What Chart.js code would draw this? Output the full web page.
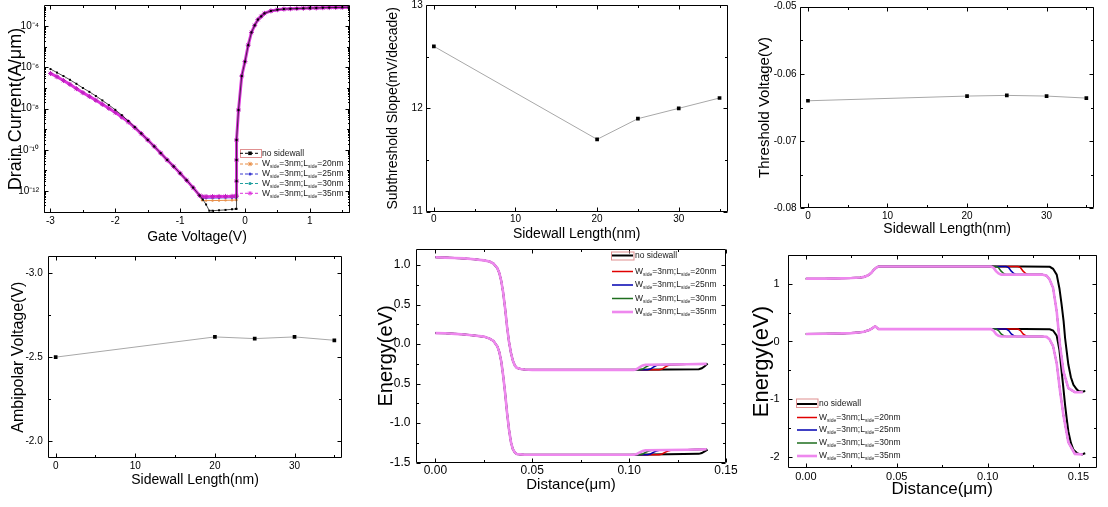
<!DOCTYPE html>
<html>
<head>
<meta charset="utf-8">
<script src="https://cdn.jsdelivr.net/npm/chart.js@4.4.1/dist/chart.umd.min.js"></script>
<style>
html,body{margin:0;padding:0;background:#fff;}
body{width:1108px;height:507px;overflow:hidden;position:relative;}
canvas{position:absolute;}
</style>
</head>
<body>
<canvas id="c1"></canvas>
<canvas id="c2"></canvas>
<canvas id="c3"></canvas>
<canvas id="c4"></canvas>
<canvas id="c5"></canvas>
<canvas id="c6"></canvas>
<script>
// ---------------- DATA ----------------
// sidewall lengths (nm) used by the three summary plots and legends
const sidewallLen = [0, 20, 25, 30, 35];
const legendLens = [20, 25, 30, 35];
const subSlope = [12.6, 11.7, 11.9, 12.0, 12.1];              // mV/decade
const thresholdV = [-0.0640, -0.0633, -0.0632, -0.0633, -0.0636]; // V
const ambipolarV = [-2.50, -2.62, -2.61, -2.62, -2.60];        // V

// Panel 1: transfer characteristics (gate voltage V, drain current A/um)
const currentDecades = [1e-13, 1e-12, 1e-11, 1e-10, 1e-9, 1e-8, 1e-7, 1e-6, 1e-5, 1e-4];
const vgNoSide = [-3.0,-2.9,-2.8,-2.7,-2.6,-2.5,-2.4,-2.3,-2.2,-2.1,-2.0,-1.9,-1.8,-1.7,-1.6,-1.5,-1.4,-1.3,-1.2,-1.1,-1.0,-0.9,-0.8,-0.7,
  -0.65,-0.6,-0.55,-0.5,-0.4,-0.3,-0.2,-0.14,-0.13,
  -0.13,-0.13,-0.13,-0.1,-0.05,0.0,0.05,0.1,0.15,0.2,0.25,0.3,0.4,0.5,0.6,0.7,0.8,0.9,1.0,1.1,1.2,1.3,1.4,1.5,1.6];
const vgSide = [-3.0,-2.9,-2.8,-2.7,-2.6,-2.5,-2.4,-2.3,-2.2,-2.1,-2.0,-1.9,-1.8,-1.7,-1.6,-1.5,-1.4,-1.3,-1.2,-1.1,-1.0,-0.9,-0.8,-0.7,
  -0.66,-0.6,-0.5,-0.4,-0.3,-0.2,-0.14,-0.13,
  -0.13,-0.13,-0.13,-0.1,-0.05,0.0,0.05,0.1,0.15,0.2,0.25,0.3,0.4,0.5,0.6,0.7,0.8,0.9,1.0,1.1,1.2,1.3,1.4,1.5,1.6];
const idNoSideLeft = [8.3e-7,5.6e-7,3.8e-7,2.5e-7,1.6e-7,1.0e-7,6.5e-8,4.1e-8,2.5e-8,1.5e-8,8.7e-9,4.8e-9,2.5e-9,1.26e-9,6.2e-10,3.0e-10,1.45e-10,6.9e-11,3.2e-11,1.55e-11,7.2e-12,3.3e-12,1.45e-12,6.0e-13];
const idNoSideFloor = [3.8e-13,2.2e-13,1.1e-13,1.1e-13,1.15e-13,1.2e-13,1.28e-13,1.35e-13,1.35e-13];
const idSideLeft = [5.1e-7,3.5e-7,2.3e-7,1.5e-7,9.3e-8,5.9e-8,3.9e-8,2.55e-8,1.62e-8,1.03e-8,6.5e-9,3.9e-9,2.25e-9,1.2e-9,6.1e-10,3.0e-10,1.45e-10,6.9e-11,3.2e-11,1.55e-11,7.2e-12,3.3e-12,1.45e-12,6.0e-13];
const idFloor20 = [3.5e-13,3.4e-13,3.42e-13,3.45e-13,3.5e-13,3.55e-13,3.6e-13,3.6e-13];
const idFloor25 = [4.5e-13,4.5e-13,4.55e-13,4.6e-13,4.65e-13,4.7e-13,4.75e-13,4.75e-13];
const idFloor30 = [5.0e-13,5.0e-13,5.05e-13,5.1e-13,5.15e-13,5.2e-13,5.25e-13,5.25e-13];
const idFloor35 = [5.3e-13,5.3e-13,5.35e-13,5.4e-13,5.45e-13,5.5e-13,5.6e-13,5.6e-13];
const idRise = [3.0e-12,3.2e-11,3.0e-10,8.5e-9,3.8e-7,1.9e-6,1.2e-5,5.0e-5,1.1e-4,2.1e-4,3.0e-4,4.2e-4,
  5.5e-4,6.3e-4,6.8e-4,7.0e-4,7.2e-4,7.4e-4,7.6e-4,7.7e-4,7.9e-4,8.0e-4,8.1e-4,8.2e-4,8.3e-4];

// Panel 5: band diagram (distance um, energy eV)
const p5X = [0,0.005,0.01,0.015,0.02,0.025,0.028,0.03,0.032,0.033,0.034,0.035,0.036,0.037,0.038,0.039,0.04,0.041,0.042,0.044,0.046,0.05,0.06,0.07,0.08,0.09,0.1];
const p5EcLeft = [1.10,1.095,1.09,1.085,1.075,1.06,1.045,1.02,0.96,0.90,0.80,0.65,0.45,0.22,0.03,-0.11,-0.21,-0.27,-0.30,-0.315,-0.32,-0.325,-0.325,-0.325,-0.325,-0.325,-0.325];
const p5EvLeft = [0.14,0.137,0.13,0.122,0.11,0.095,0.07,0.04,-0.03,-0.10,-0.22,-0.40,-0.62,-0.87,-1.08,-1.24,-1.33,-1.37,-1.39,-1.395,-1.40,-1.40,-1.40,-1.40,-1.40,-1.40,-1.40];
const p5XNoSide = [0.12,0.136,0.1375,0.139,0.1405];
const p5EcNoSide = [-0.322,-0.318,-0.305,-0.28,-0.245];
const p5EvNoSide = [-1.392,-1.388,-1.378,-1.358,-1.335];
const p5X20 = [0.1155,0.117,0.1185,0.12,0.1215,0.13,0.14];
const p5X25 = [0.1095,0.111,0.1125,0.114,0.1155,0.13,0.14];
const p5X30 = [0.1055,0.107,0.1085,0.11,0.1115,0.13,0.14];
const p5X35 = [0.1025,0.104,0.1055,0.107,0.1085,0.13,0.14];
const p5EcSide = [-0.325,-0.315,-0.292,-0.27,-0.26,-0.255,-0.25];
const p5EvSide = [-1.40,-1.39,-1.37,-1.352,-1.342,-1.337,-1.33];

// Panel 6: band diagram (distance um, energy eV)
const p6X = [0,0.01,0.02,0.025,0.03,0.032,0.034,0.035,0.036,0.037,0.038,0.0385,0.039,0.0395,0.04,0.042,0.05,0.07,0.09,0.1];
const p6EcLeft = [1.09,1.09,1.095,1.10,1.11,1.12,1.145,1.165,1.19,1.23,1.26,1.275,1.285,1.295,1.30,1.30,1.30,1.30,1.30,1.30];
const p6EvLeft = [0.13,0.135,0.14,0.145,0.16,0.17,0.19,0.20,0.22,0.24,0.26,0.255,0.24,0.225,0.215,0.215,0.215,0.215,0.215,0.215];
const p6XNoSide = [0.12,0.1342,0.136,0.138,0.1395,0.1407,0.1418,0.1426,0.1435,0.1444,0.1458,0.1472,0.149,0.15,0.152,0.1537];
const p6EcNoSide = [1.30,1.295,1.26,1.16,0.92,0.64,0.35,0.06,-0.17,-0.40,-0.62,-0.75,-0.83,-0.86,-0.87,-0.86];
const p6EvNoSide = [0.215,0.212,0.19,0.10,-0.15,-0.52,-0.85,-1.10,-1.34,-1.56,-1.76,-1.88,-1.93,-1.95,-1.955,-1.94];
const p6X20 = [0.1167,0.1181,0.1195,0.1209,0.1224,0.13,0.1324,0.134,0.136,0.138,0.1398,0.1417,0.1444,0.148,0.1524];
const p6X25 = [0.1102,0.1116,0.113,0.1144,0.1159,0.13,0.1324,0.134,0.136,0.138,0.1398,0.1417,0.1444,0.148,0.1524];
const p6X30 = [0.1046,0.106,0.1074,0.1088,0.1103,0.13,0.1324,0.134,0.136,0.138,0.1398,0.1417,0.1444,0.148,0.1524];
const p6X35 = [0.1018,0.1032,0.1046,0.106,0.1075,0.13,0.1324,0.134,0.136,0.138,0.1398,0.1417,0.1444,0.148,0.1524];
const p6EcSide = [1.30,1.28,1.22,1.18,1.16,1.16,1.14,1.08,0.93,0.52,-0.06,-0.52,-0.81,-0.88,-0.88];
const p6EvSide = [0.215,0.19,0.13,0.10,0.087,0.087,0.08,0.04,-0.08,-0.38,-0.85,-1.28,-1.75,-1.95,-1.96];

// ---------------- HELPERS ----------------
const FONT = "'Liberation Sans', Arial, Helvetica, sans-serif";
Chart.defaults.font.family = FONT;
Chart.defaults.color = '#000';
const SUP = {'-':'\u207B','0':'\u2070','1':'\u00B9','2':'\u00B2','3':'\u00B3','4':'\u2074','5':'\u2075','6':'\u2076','7':'\u2077','8':'\u2078','9':'\u2079'};
const toSup = s => String(s).split('').map(c => SUP[c] || c).join('');
const pts = (xs, ys) => xs.map((x, i) => ({x: x, y: ys[i]}));
const sideParts = len => [['W', 0], ['side', 1], ['=3nm;L', 0], ['side', 1], ['=' + len + 'nm', 0]];
const noSideParts = [['no sidewall', 0]];

function drawMarker(ctx, m, x, y, c) {
  ctx.fillStyle = c; ctx.strokeStyle = c; ctx.lineWidth = 1;
  if (m === 'rect') { ctx.fillRect(x - 1.8, y - 1.8, 3.6, 3.6); }
  else if (m === 'circle') { ctx.beginPath(); ctx.arc(x, y, 1.6, 0, Math.PI * 2); ctx.fill(); }
  else if (m === 'star') {
    ctx.beginPath();
    ctx.moveTo(x - 2.2, y); ctx.lineTo(x + 2.2, y);
    ctx.moveTo(x, y - 2.2); ctx.lineTo(x, y + 2.2);
    ctx.moveTo(x - 1.6, y - 1.6); ctx.lineTo(x + 1.6, y + 1.6);
    ctx.moveTo(x - 1.6, y + 1.6); ctx.lineTo(x + 1.6, y - 1.6);
    ctx.stroke();
  }
}

function framePlugin(o) {
  return {
    id: 'frameTicks',
    afterDraw(chart) {
      const ctx = chart.ctx, a = chart.chartArea, xs = chart.scales.x, ys = chart.scales.y;
      const L = Math.round(a.left) + 0.5, R = Math.round(a.right) - 0.5;
      const T = Math.round(a.top) + 0.5, B = Math.round(a.bottom) - 0.5;
      ctx.save();
      ctx.strokeStyle = '#000'; ctx.lineWidth = 1;
      ctx.beginPath();
      ctx.rect(L, T, R - L, B - T);
      xs.ticks.forEach(t => {
        const p = Math.round(xs.getPixelForValue(t.value)) + 0.5;
        const len = (t.label !== '' && t.label != null) ? 4 : 2.5;
        ctx.moveTo(p, B); ctx.lineTo(p, B - len);
        ctx.moveTo(p, T); ctx.lineTo(p, T + len);
      });
      ys.ticks.forEach(t => {
        const p = Math.round(ys.getPixelForValue(t.value)) + 0.5;
        const len = (t.label !== '' && t.label != null) ? 4 : 2.5;
        ctx.moveTo(L, p); ctx.lineTo(L + len, p);
        ctx.moveTo(R, p); ctx.lineTo(R - len, p);
      });
      if (o.logMinor) {
        for (let d = -14; d <= -3; d++) {
          for (let m = 2; m <= 9; m++) {
            const v = m * Math.pow(10, d);
            if (v > ys.min && v < ys.max) {
              const p = Math.round(ys.getPixelForValue(v)) + 0.5;
              ctx.moveTo(L, p); ctx.lineTo(L + 1.5, p);
              ctx.moveTo(R, p); ctx.lineTo(R - 1.5, p);
            }
          }
        }
      }
      ctx.stroke();
      ctx.restore();
    }
  };
}

function legendPlugin(Lg, bx, by) {
  return {
    id: 'subLegend',
    afterDraw(chart) {
      if (!Lg) return;
      const ctx = chart.ctx;
      ctx.save();
      if (Lg.selBox) {
        ctx.strokeStyle = '#e09090'; ctx.lineWidth = 1;
        ctx.strokeRect(Lg.selBox[0] - bx + 0.5, Lg.selBox[1] - by + 0.5, Lg.selBox[2], Lg.selBox[3]);
      }
      Lg.rows.forEach((ry, i) => {
        const e = Lg.entries[i];
        const y = ry - by, x0 = Lg.sx0 - bx, x1 = Lg.sx1 - bx;
        ctx.strokeStyle = e.color; ctx.lineWidth = e.width; ctx.setLineDash(e.dash || []);
        ctx.beginPath(); ctx.moveTo(x0, y); ctx.lineTo(x1, y); ctx.stroke();
        ctx.setLineDash([]);
        if (e.marker) drawMarker(ctx, e.marker, (x0 + x1) / 2, y, e.color);
        ctx.fillStyle = '#1a1a1a'; ctx.textBaseline = 'middle'; ctx.textAlign = 'left';
        let cx = Lg.tx - bx;
        e.parts.forEach(([t, sub]) => {
          const fs = sub ? Lg.size * 0.6 : Lg.size;
          ctx.font = fs + 'px ' + FONT;
          ctx.fillText(t, cx, y + (sub ? Lg.size * 0.35 : 0));
          cx += ctx.measureText(t).width;
        });
      });
      ctx.restore();
    }
  };
}

function makeChart(id, s) {
  const cv = document.getElementById(id);
  const [bx, by, bw, bh] = s.box;
  const [L, T, R, B] = s.plot;
  cv.width = bw; cv.height = bh;
  cv.style.left = bx + 'px'; cv.style.top = by + 'px';
  cv.style.width = bw + 'px'; cv.style.height = bh + 'px';
  const yW = L - bx, xH = by + bh - B, padT = T - by, padR = bx + bw - R;
  const yLH = s.yTitleSize * 1.2, xLH = s.xTitleSize * 1.2;
  const xScale = {
    type: 'linear', position: 'bottom', min: s.xMin, max: s.xMax,
    grid: {display: false, drawTicks: false}, border: {display: false},
    ticks: {stepSize: s.xStep, includeBounds: false, autoSkip: false, maxRotation: 0, minRotation: 0,
      padding: s.xTickPad, font: {size: s.tickSize}, color: '#000', callback: s.xFmt},
    title: {display: true, text: s.xTitle, color: '#000', font: {size: s.xTitleSize},
      padding: {top: 0, bottom: (by + bh - s.xTitleY) - xLH / 2}},
    afterFit: sc => { sc.height = xH; }
  };
  const yScale = {
    type: s.yType || 'linear', position: 'left', min: s.yMin, max: s.yMax, reverse: !!s.yReverse,
    grid: {display: false, drawTicks: false}, border: {display: false},
    ticks: {stepSize: s.yStep, includeBounds: false, autoSkip: false, padding: s.yTickPad,
      font: {size: s.tickSize}, color: '#000', callback: s.yFmt},
    title: {display: true, text: s.yTitle, color: '#000', font: {size: s.yTitleSize},
      padding: {top: (s.yTitleX - bx) - yLH / 2, bottom: 0}},
    afterFit: sc => { sc.width = yW; }
  };
  if (s.yTicks) yScale.afterBuildTicks = sc => { sc.ticks = s.yTicks.map(v => ({value: v})); };
  return new Chart(cv, {
    type: 'line',
    data: {datasets: s.datasets},
    options: {
      responsive: false, animation: false, events: [],
      layout: {padding: {top: padT, right: padR, left: 0, bottom: 0}},
      plugins: {legend: {display: false}, tooltip: {enabled: false}},
      elements: {line: {tension: 0}},
      scales: {x: xScale, y: yScale}
    },
    plugins: [framePlugin(s.frame || {}), legendPlugin(s.legend, bx, by)]
  });
}

const intFmt = v => Number.isInteger(v) ? String(v) : '';
const multFmt = (m, d) => v => (Math.abs(Math.round(v / m) * m - v) < 1e-9 ? v.toFixed(d) : '');

// ---------------- PANEL 1 ----------------
const C_BLACK = '#000000', C20 = '#e8904a', C25 = '#3a3ad0', C30 = '#22a0a0', C35 = '#dd33dd';
makeChart('c1', {
  box: [0, -15, 372, 265], plot: [44, 5, 350, 213],
  xMin: -3.1, xMax: 1.62, xStep: 0.5, xFmt: intFmt,
  yType: 'logarithmic', yMin: 8.5e-14, yMax: 1.07e-3, yTicks: currentDecades,
  yFmt: v => { const e = Math.round(Math.log10(v)); return e % 2 === 0 ? '10' + toSup(e) : ''; },
  xTitle: 'Gate Voltage(V)', yTitle: 'Drain Current(A/\u03BCm)',
  xTitleY: 236.7, yTitleX: 16, xTitleSize: 14, yTitleSize: 18, tickSize: 10, xTickPad: 2, yTickPad: 5,
  frame: {logMinor: true},
  legend: {
    rows: [153.3, 164, 174, 183.5, 193.3], sx0: 240, sx1: 260, tx: 262, size: 8.5, selBox: [240, 149, 21, 8],
    entries: [
      {color: C_BLACK, width: 1, dash: [3, 2], marker: 'rect', parts: noSideParts},
      {color: C20, width: 1, dash: [3, 2], marker: 'star', parts: sideParts(legendLens[0])},
      {color: C25, width: 1, dash: [3, 2], marker: 'circle', parts: sideParts(legendLens[1])},
      {color: C30, width: 1, dash: [3, 2], marker: 'circle', parts: sideParts(legendLens[2])},
      {color: C35, width: 1, dash: [3, 2], marker: 'star', parts: sideParts(legendLens[3])}
    ]
  },
  datasets: [
    {data: pts(vgNoSide, idNoSideLeft.concat(idNoSideFloor, idRise)), borderColor: '#222', borderWidth: 0.8,
      pointStyle: 'rect', pointRadius: 1.4, pointBackgroundColor: C_BLACK, pointBorderWidth: 0, order: 0},
    {data: pts(vgSide, idSideLeft.concat(idFloor35, idRise)), borderColor: C35, borderWidth: 3,
      pointStyle: 'star', pointRadius: 2.5, pointBorderColor: '#c020c0', pointBackgroundColor: C35, pointBorderWidth: 1, order: 1},
    {data: pts(vgSide, idSideLeft.concat(idFloor30, idRise)), borderColor: C30, borderWidth: 1,
      pointRadius: 1.2, pointBackgroundColor: C30, pointBorderWidth: 0, order: 2},
    {data: pts(vgSide, idSideLeft.concat(idFloor25, idRise)), borderColor: C25, borderWidth: 1,
      pointRadius: 1.2, pointBackgroundColor: C25, pointBorderWidth: 0, order: 3},
    {data: pts(vgSide, idSideLeft.concat(idFloor20, idRise)), borderColor: C20, borderWidth: 1,
      pointRadius: 1.2, pointBackgroundColor: C20, pointBorderWidth: 0, order: 4}
  ]
});

// ---------------- PANELS 2-4 ----------------
const summaryDs = ys => [{data: pts(sidewallLen, ys), borderColor: '#a8a8a8', borderWidth: 1,
  pointStyle: 'rect', pointRadius: 2.6, pointBackgroundColor: '#000', pointBorderColor: '#000', pointBorderWidth: 0}];

makeChart('c2', {
  box: [362, -15, 390, 265], plot: [425.7, 5, 727.7, 211.7],
  xMin: -1, xMax: 36, xStep: 5, xFmt: multFmt(10, 0),
  yMin: 11, yMax: 13, yStep: 0.5, yFmt: intFmt,
  xTitle: 'Sidewall Length(nm)', yTitle: 'Subthreshold Slope(mV/decade)',
  xTitleY: 234.3, yTitleX: 393.3, xTitleSize: 14, yTitleSize: 14, tickSize: 10, xTickPad: 2, yTickPad: 3,
  datasets: summaryDs(subSlope)
});

makeChart('c3', {
  box: [732, -15, 386, 265], plot: [800, 6.7, 1094.3, 208.3],
  xMin: -1, xMax: 36, xStep: 5, xFmt: multFmt(10, 0),
  yMin: -0.08, yMax: -0.05, yStep: 0.005, yFmt: multFmt(0.01, 2),
  xTitle: 'Sidewall Length(nm)', yTitle: 'Threshold Voltage(V)',
  xTitleY: 229.3, yTitleX: 765, xTitleSize: 14, yTitleSize: 15, tickSize: 10, xTickPad: 2.4, yTickPad: 3.5,
  datasets: summaryDs(thresholdV)
});

makeChart('c4', {
  box: [0, 235, 372, 272], plot: [47.7, 256, 342.3, 458.3],
  xMin: -1, xMax: 36, xStep: 5, xFmt: multFmt(10, 0),
  yMin: -3.1, yMax: -1.9, yStep: 0.25, yReverse: true, yFmt: multFmt(0.5, 1),
  xTitle: 'Sidewall Length(nm)', yTitle: 'Ambipolar Voltage(V)',
  xTitleY: 480, yTitleX: 19, xTitleSize: 14, yTitleSize: 16, tickSize: 10, xTickPad: 2.4, yTickPad: 5,
  datasets: summaryDs(ambipolarV)
});

// ---------------- PANELS 5-6 ----------------
const B_BLACK = '#000000', B20 = '#e00000', B25 = '#0000b0', B30 = '#1e6e1e', B35 = '#ee88ee';
const bandStyles = [
  {c: B_BLACK, w: 2, o: 4}, {c: B20, w: 1.5, o: 3}, {c: B25, w: 1.5, o: 2}, {c: B30, w: 1.5, o: 1}, {c: B35, w: 2.6, o: 0}
];
const bandDs = (st, xs, ys) => ({data: pts(xs, ys), borderColor: st.c, borderWidth: st.w, pointRadius: 0, order: st.o});
const bandLegendEntries = [
  {color: B_BLACK, width: 2, parts: noSideParts},
  {color: B20, width: 1.5, parts: sideParts(legendLens[0])},
  {color: B25, width: 1.5, parts: sideParts(legendLens[1])},
  {color: B30, width: 1.5, parts: sideParts(legendLens[2])},
  {color: B35, width: 2.6, parts: sideParts(legendLens[3])}
];

const p5Tails = [[p5XNoSide, p5EcNoSide, p5EvNoSide], [p5X20, p5EcSide, p5EvSide], [p5X25, p5EcSide, p5EvSide],
  [p5X30, p5EcSide, p5EvSide], [p5X35, p5EcSide, p5EvSide]];
const p5Sets = [];
p5Tails.forEach((t, i) => {
  p5Sets.push(bandDs(bandStyles[i], p5X.concat(t[0]), p5EcLeft.concat(t[1])));
  p5Sets.push(bandDs(bandStyles[i], p5X.concat(t[0]), p5EvLeft.concat(t[2])));
});
makeChart('c5', {
  box: [372, 230, 390, 277], plot: [416, 249.3, 726, 462.7],
  xMin: -0.01, xMax: 0.15, xStep: 0.025, xFmt: multFmt(0.05, 2),
  yMin: -1.5, yMax: 1.2, yStep: 0.25, yFmt: multFmt(0.5, 1),
  xTitle: 'Distance(\u03BCm)', yTitle: 'Energy(eV)',
  xTitleY: 485, yTitleX: 386, xTitleSize: 15, yTitleSize: 20, tickSize: 12, xTickPad: 0.5, yTickPad: 5.5,
  legend: {rows: [255.5, 271.5, 285, 298.5, 312], sx0: 612, sx1: 633, tx: 635, size: 8.5,
    selBox: [611, 251.5, 22.5, 8], entries: bandLegendEntries},
  datasets: p5Sets
});

const p6Tails = [[p6XNoSide, p6EcNoSide, p6EvNoSide], [p6X20, p6EcSide, p6EvSide], [p6X25, p6EcSide, p6EvSide],
  [p6X30, p6EcSide, p6EvSide], [p6X35, p6EcSide, p6EvSide]];
const p6Sets = [];
p6Tails.forEach((t, i) => {
  p6Sets.push(bandDs(bandStyles[i], p6X.concat(t[0]), p6EcLeft.concat(t[1])));
  p6Sets.push(bandDs(bandStyles[i], p6X.concat(t[0]), p6EvLeft.concat(t[2])));
});
makeChart('c6', {
  box: [740, 230, 378, 277], plot: [787.7, 255, 1096.7, 468.3],
  xMin: -0.01, xMax: 0.16, xStep: 0.025, xFmt: multFmt(0.05, 2),
  yMin: -2.2, yMax: 1.5, yStep: 0.5, yFmt: intFmt,
  xTitle: 'Distance(\u03BCm)', yTitle: 'Energy(eV)',
  xTitleY: 489.3, yTitleX: 761.7, xTitleSize: 17, yTitleSize: 22, tickSize: 11, xTickPad: 1.8, yTickPad: 8,
  legend: {rows: [404, 417.5, 430, 443, 456], sx0: 797, sx1: 817, tx: 819, size: 8.5,
    selBox: [796, 398.5, 21.5, 8.5], entries: bandLegendEntries},
  datasets: p6Sets
});
</script>
</body>
</html>
